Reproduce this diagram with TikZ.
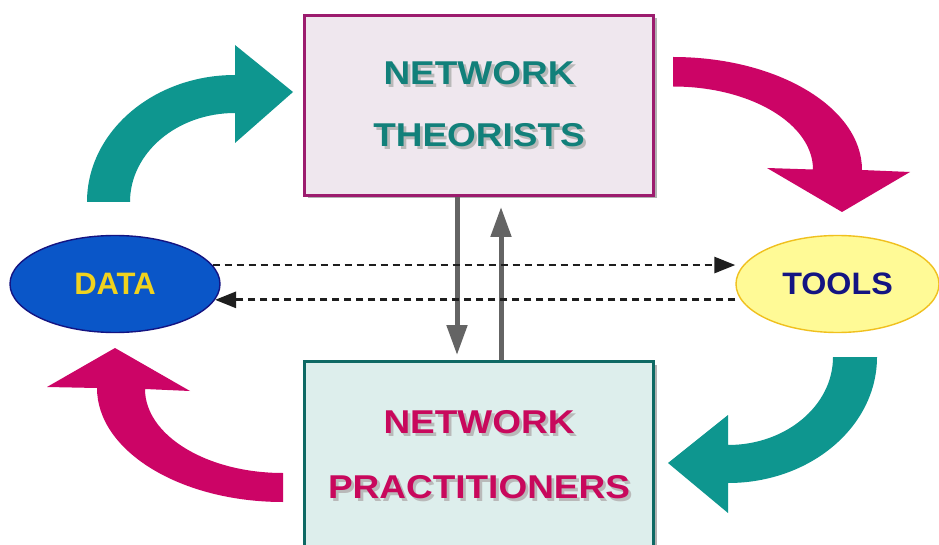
\documentclass[tikz,border=0pt]{standalone}
\usepackage{fontspec}
\usepackage{graphicx}
\setmainfont{Liberation Sans}
\usetikzlibrary{arrows.meta,shapes.geometric,shadows}
\definecolor{arrteal}{RGB}{14,150,143}
\definecolor{arrmag}{RGB}{204,4,102}
\definecolor{magborder}{RGB}{156,28,110}
\definecolor{pinkfill}{RGB}{239,231,238}
\definecolor{tealborder}{RGB}{14,105,100}
\definecolor{tealfill}{RGB}{221,238,236}
\definecolor{tealtext}{RGB}{18,128,122}
\definecolor{magtext}{RGB}{200,8,92}
\definecolor{txtshadow}{RGB}{185,185,185}
\definecolor{datafill}{RGB}{10,86,200}
\definecolor{databorder}{RGB}{20,20,130}
\definecolor{datatext}{RGB}{240,210,30}
\definecolor{toolfill}{RGB}{255,250,150}
\definecolor{toolborder}{RGB}{240,192,30}
\definecolor{tooltext}{RGB}{20,20,130}
\definecolor{grayarr}{RGB}{100,100,100}
\definecolor{dasharr}{RGB}{30,30,30}
\newcommand\shtxt[2]{\scalebox{1.12}[1]{\makebox[0pt][l]{\hspace{2.5pt}\raisebox{-2.5pt}{\textcolor{txtshadow}{#2}}}\textcolor{#1}{#2}}}
\tikzset{
  bigbox/.style={rectangle, line width=3pt, minimum width=349pt, inner sep=0pt, align=center,
    drop shadow={shadow xshift=3pt, shadow yshift=-3pt, fill=black!30, opacity=1}},
  ovalnode/.style={ellipse, inner sep=0pt, minimum height=97pt,
    font=\fontsize{31}{36}\selectfont\bfseries},
  grayarrow/.style={draw=grayarr, line width=5pt, -{Triangle[length=30pt,width=20pt]}},
  dasharrow/.style={draw=dasharr, line width=2.8pt, dash pattern=on 7pt off 5pt,
    -{Triangle[length=21pt,width=16pt]}}
}
\begin{document}
\begin{tikzpicture}[x=1pt,y=1pt]
\useasboundingbox (0,0) rectangle (939,544);
\clip (0,0) rectangle (939,544);
\fill[white] (0,0) rectangle (939,544);

% curved arrows
\fill[arrteal] (87,342) arc[start angle=180,end angle=90,x radius=148,y radius=127]
  -- (235,499) -- (293,452) -- (235,401) -- (235,431)
  arc[start angle=90,end angle=180,x radius=105,y radius=89] -- cycle;
\fill[arrmag] (673,487) arc[start angle=90,end angle=0,x radius=189,y radius=113]
  -- (910,372) -- (842,332) -- (767,376) -- (813,374.5)
  arc[start angle=0,end angle=90,x radius=140,y radius=83] -- cycle;
\fill[arrteal] (877,187) arc[start angle=0,end angle=-90,x radius=149,y radius=126]
  -- (728,31) -- (668,81) -- (728,129) -- (728,99)
  arc[start angle=-90,end angle=0,x radius=105,y radius=88] -- cycle;
\fill[arrmag] (283,42) arc[start angle=-90,end angle=-180,x radius=186,y radius=114]
  -- (47,157) -- (115,196) -- (190,153) -- (145,155)
  arc[start angle=180,end angle=270,x radius=138,y radius=84] -- cycle;

% boxes
\node[bigbox, draw=magborder, fill=pinkfill, minimum height=180pt,
  font=\fontsize{33}{62}\selectfont\bfseries] (TB) at (479,438.5)
  {\shtxt{tealtext}{NETWORK}\\\shtxt{tealtext}{THEORISTS}};
\node[bigbox, draw=tealborder, fill=tealfill, minimum height=189pt,
  font=\fontsize{33}{65}\selectfont\bfseries] (BB) at (479,88)
  {\shtxt{magtext}{NETWORK}\\\shtxt{magtext}{PRACTITIONERS}};

% ellipses
\node[ovalnode, draw=databorder, line width=1.4pt, fill=datafill, text=datatext,
  minimum width=210pt] (DATA) at (115,260) {DATA};
\node[ovalnode, draw=toolborder, line width=1.4pt, fill=toolfill, text=tooltext,
  minimum width=203pt] (TOOLS) at (837.5,260) {\scalebox{1.04}[1]{TOOLS}};

% gray vertical arrows
\draw[grayarrow, shorten >=5pt] ([xshift=-22pt]TB.south) -- ([xshift=-22pt]BB.north);
\draw[grayarrow, shorten >=10pt] ([xshift=22pt]BB.north) -- ([xshift=22pt]TB.south);

% dashed arrows
\draw[dasharrow] (DATA.11) -- (DATA.11 -| TOOLS.west);
\draw[dasharrow] (TOOLS.west |- DATA.-9) -- (DATA.-9);
\end{tikzpicture}
\end{document}
